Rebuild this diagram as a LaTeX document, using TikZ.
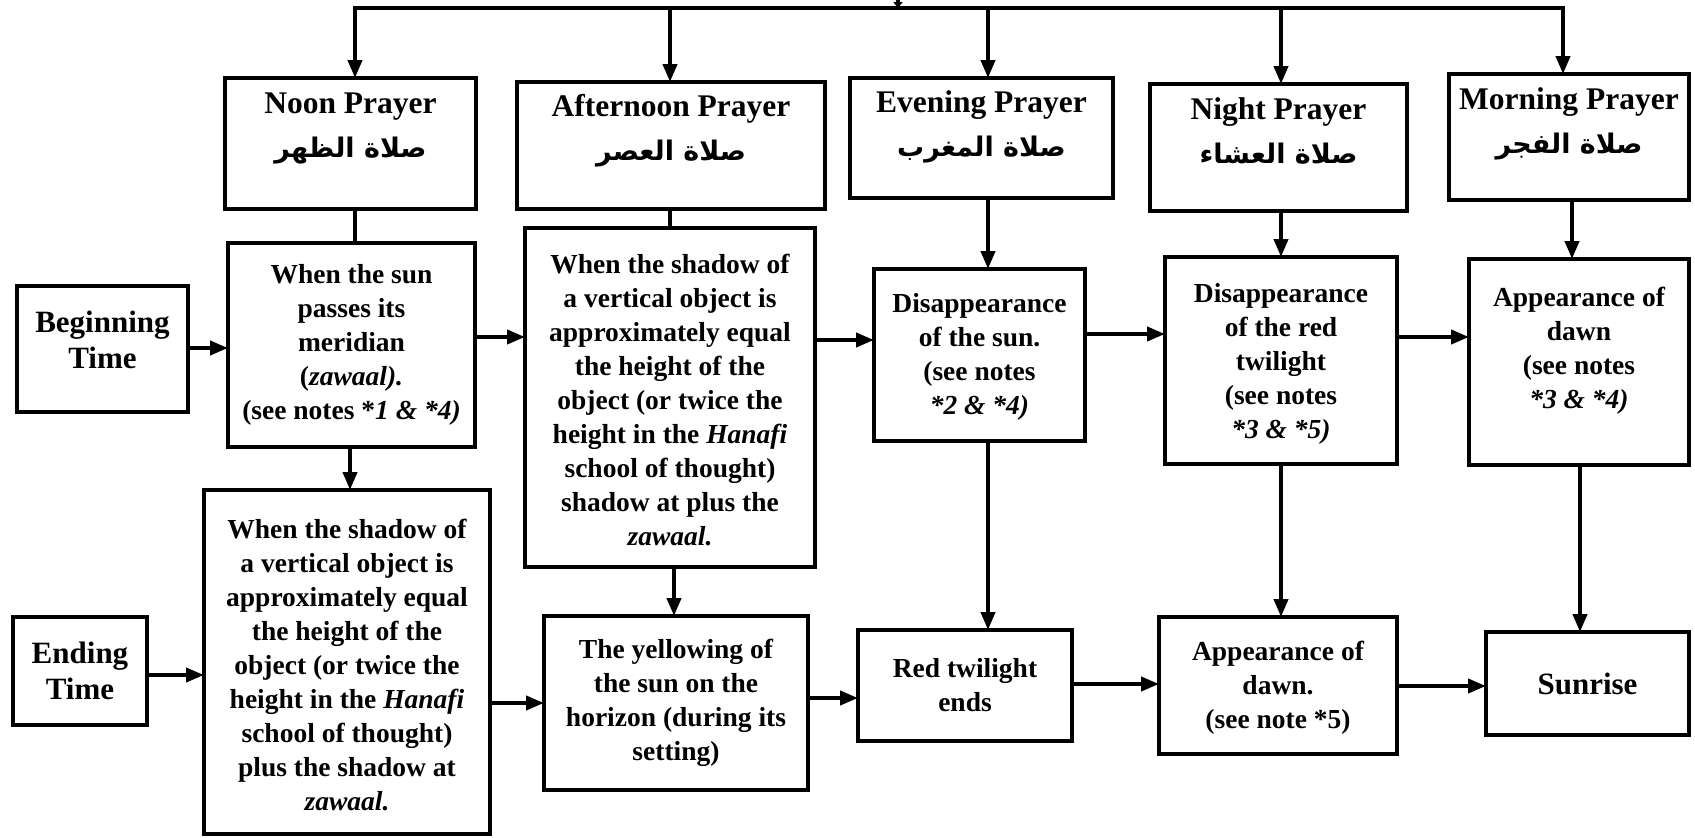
\documentclass[tikz,border=0pt]{standalone}
\usepackage{fontspec}
\setmainfont{Liberation Serif}
\newfontfamily\arabicfont[Script=Arabic]{DejaVu Sans}
\TeXXeTstate=1
\usetikzlibrary{arrows.meta}
\tikzset{
  boxs/.style={draw, line width=4.5pt, inner sep=0pt, outer sep=0pt},
  txt/.style={align=center, font=\bfseries\fontsize{27.5}{34}\selectfont, inner sep=0pt},
  big/.style={align=center, font=\bfseries\fontsize{31}{36}\selectfont, inner sep=0pt},
  ttl/.style={align=center, font=\bfseries\fontsize{31.5}{44}\selectfont, inner sep=0pt},
  ln/.style={line width=4pt},
  arr/.style={line width=4pt, -{Triangle[length=18pt,width=14pt]}},
  smallarr/.style={line width=4pt, -{Triangle[length=6pt,width=9pt]}},
}
\newcommand\ar[1]{{\arabicfont\fontsize{27}{30}\selectfont\beginR #1\endR}}
% name, x1, y1, x2, y2, text shift, style, text
\newcommand\bx[8]{%
  \node[boxs, minimum width={(#4)-(#2)}, minimum height={(#5)-(#3)}, anchor=north west] (#1) at (#2,-#3) {};
  \node[#7] (#1t) at ([yshift=#6]#1.center) {#8};
}
\begin{document}
\begin{tikzpicture}[x=1pt,y=1pt]
\useasboundingbox (0,0) rectangle (1695,-838);

% prayers
\bx{noonP}{225}{78}{476}{209}{15pt}{ttl}{Noon Prayer\\\ar{صلاة الظهر}}
\bx{aftP}{517}{82}{825}{209}{15pt}{ttl}{Afternoon Prayer\\\ar{صلاة العصر}}
\bx{eveP}{850}{78}{1113}{198}{11pt}{ttl}{Evening Prayer\\\ar{صلاة المغرب}}
\bx{nigP}{1150}{84}{1407}{211}{17pt}{ttl}{Night Prayer\\\ar{صلاة العشاء}}
\bx{morP}{1449}{74}{1689}{200}{13pt}{ttl}{Morning Prayer\\\ar{صلاة الفجر}}

% beginning row
\bx{beg}{17}{286}{188}{412}{9pt}{big}{Beginning\\Time}
\bx{noonB}{228}{243}{475}{447}{0pt}{txt}{When the sun\\passes its\\meridian\\(\textit{zawaal).}\\(see notes *\textit{1 \& *4)}}
\bx{aftB}{525}{228}{815}{567}{-3pt}{txt}{When the shadow of\\a vertical object is\\approximately equal\\the height of the\\object (or twice the\\height in the \textit{Hanafi}\\school of thought)\\shadow at plus the\\\textit{zawaal.}}
\bx{eveB}{874}{269}{1085}{441}{-2pt}{txt}{Disappearance\\of the sun.\\(see notes\\\textit{*2 \& *4)}}
\bx{nigB}{1165}{257}{1397}{464}{-3pt}{txt}{Disappearance\\of the red\\twilight\\(see notes\\\textit{*3 \& *5)}}
\bx{morB}{1469}{259}{1689}{465}{11pt}{txt}{Appearance of\\dawn\\(see notes\\\textit{*3 \& *4)}}

% ending row
\bx{endT}{13}{617}{147}{725}{0pt}{big}{Ending\\Time}
\bx{noonE}{204}{490}{490}{834}{-3pt}{txt}{When the shadow of\\a vertical object is\\approximately equal\\the height of the\\object (or twice the\\height in the \textit{Hanafi}\\school of thought)\\plus the shadow at\\\textit{zawaal.}}
\bx{aftE}{544}{616}{808}{790}{0pt}{txt}{The yellowing of\\the sun on the\\horizon (during its\\setting)}
\bx{eveE}{858}{630}{1072}{741}{0pt}{txt}{Red twilight\\ends}
\bx{nigE}{1159}{617}{1397}{754}{-2pt}{txt}{Appearance of\\dawn.\\(see note *5)}
\bx{morE}{1486}{632}{1689}{735}{0pt}{big}{Sunrise}

% column / row helper coordinates
\coordinate (cN) at (355,-8);
\coordinate (cN2) at (350,0);
\coordinate (cA) at (670,0);
\coordinate (cA2) at (674,0);
\coordinate (cE) at (988,0);
\coordinate (cG) at (1281,0);
\coordinate (cM) at (1563,-8);
\coordinate (cM1) at (1572,0);
\coordinate (cM2) at (1580,0);
\coordinate (src) at (898,0);
\coordinate (srcE) at (898,-8);

% top bus
\draw[ln] ([xshift=-2pt]cN) -- ([xshift=2pt]cM);
\draw[smallarr] (src) -- (srcE);
\draw[arr] (cN) -- (noonP.north -| cN);
\draw[arr] (cA |- cN) -- (aftP.north -| cA);
\draw[arr] (cE |- cN) -- (eveP.north -| cE);
\draw[arr] (cG |- cN) -- (nigP.north -| cG);
\draw[arr] (cM) -- (morP.north -| cM);

% prayer -> beginning
\draw[ln] (noonP.south -| cN) -- (noonB.north -| cN);
\draw[ln] (aftP.south -| cA) -- (aftB.north -| cA);
\draw[arr] (eveP.south -| cE) -- (eveB.north -| cE);
\draw[arr] (nigP.south -| cG) -- (nigB.north -| cG);
\draw[arr] (morP.south -| cM1) -- (morB.north -| cM1);

% beginning -> ending
\draw[arr] (noonB.south -| cN2) -- (noonE.north -| cN2);
\draw[arr] (aftB.south -| cA2) -- (aftE.north -| cA2);
\draw[arr] (eveB.south -| cE) -- (eveE.north -| cE);
\draw[arr] (nigB.south -| cG) -- (nigE.north -| cG);
\draw[arr] (morB.south -| cM2) -- (morE.north -| cM2);

% horizontal rows
\coordinate (r1) at (0,-348);
\coordinate (r2) at (0,-337);
\coordinate (r3) at (0,-340);
\coordinate (r4) at (0,-334);
\coordinate (r5) at (0,-337);
\draw[arr] (beg.east |- r1) -- (noonB.west |- r1);
\draw[arr] (noonB.east |- r2) -- (aftB.west |- r2);
\draw[arr] (aftB.east |- r3) -- (eveB.west |- r3);
\draw[arr] (eveB.east |- r4) -- (nigB.west |- r4);
\draw[arr] (nigB.east |- r5) -- (morB.west |- r5);

\coordinate (s1) at (0,-675);
\coordinate (s2) at (0,-703);
\coordinate (s3) at (0,-698);
\coordinate (s4) at (0,-684);
\coordinate (s5) at (0,-686);
\draw[arr] (endT.east |- s1) -- (noonE.west |- s1);
\draw[arr] (noonE.east |- s2) -- (aftE.west |- s2);
\draw[arr] (aftE.east |- s3) -- (eveE.west |- s3);
\draw[arr] (eveE.east |- s4) -- (nigE.west |- s4);
\draw[arr] (nigE.east |- s5) -- (morE.west |- s5);
\end{tikzpicture}
\end{document}
